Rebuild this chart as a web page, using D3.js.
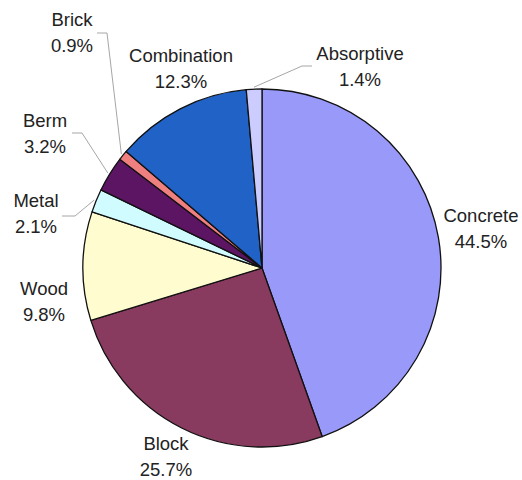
<!DOCTYPE html>
<html>
<head>
<meta charset="utf-8">
<script src="https://cdn.jsdelivr.net/npm/d3@7/dist/d3.min.js"></script>
<style>
  html, body { margin: 0; padding: 0; background: #fff; }
  svg { display: block; }
  text { font-family: Arial, "Liberation Sans", sans-serif; font-size: 18.5px; fill: #222; }
</style>
</head>
<body>
<svg id="chart" width="522" height="480"></svg>
<script>
// Barrier material shares (percent), clockwise from 12 o'clock
const categories = ["Concrete", "Block", "Wood", "Metal", "Berm", "Brick", "Combination", "Absorptive"];
const shares = [44.5, 25.7, 9.8, 2.1, 3.2, 0.9, 12.3, 1.4];
const shareLabels = ["44.5%", "25.7%", "9.8%", "2.1%", "3.2%", "0.9%", "12.3%", "1.4%"];
const sliceColors = ["#9999FA", "#893A5F", "#FFFDD0", "#D0FCFF", "#5C1563", "#F08080", "#2062C6", "#CCCCFF"];

// Label placement: text centre x, first-line baseline y, and optional leader elbow
const labelLayout = {
  "Concrete":    { x: 481, y: 222 },
  "Block":       { x: 166, y: 450 },
  "Wood":        { x: 44,  y: 295 },
  "Metal":       { x: 36,  y: 207, leader: [[62, 216], [75, 216]] },
  "Berm":        { x: 45,  y: 127, leader: [[72, 133], [82, 133]] },
  "Brick":       { x: 72,  y: 26,  leader: [[97, 33], [107, 33]] },
  "Combination": { x: 181, y: 62 },
  "Absorptive":  { x: 360, y: 60,  leader: [[312, 66], [302, 66]] }
};

const cx = 262, cy = 268, radius = 179, lineGap = 26;

const data = categories.map((c, i) => ({ name: c, value: shares[i], label: shareLabels[i], color: sliceColors[i] }));

const svg = d3.select("#chart");
const g = svg.append("g").attr("transform", `translate(${cx},${cy})`);

const pie = d3.pie().sort(null).value(d => d.value);
const arc = d3.arc().innerRadius(0).outerRadius(radius);
const arcs = pie(data);

// Leader lines for the narrow slices
const leaderArc = d3.arc().innerRadius(radius + 2).outerRadius(radius + 2);
arcs.forEach(a => {
  const lay = labelLayout[a.data.name];
  if (!lay.leader) return;
  const mid = (a.startAngle + a.endAngle) / 2;
  const end = [Math.sin(mid) * (radius + 2) + cx, -Math.cos(mid) * (radius + 2) + cy];
  const pts = lay.leader.concat([end]);
  svg.append("path")
    .attr("d", d3.line()(pts))
    .attr("fill", "none")
    .attr("stroke", "#a6a6a6")
    .attr("stroke-width", 1);
});

// Slices
g.selectAll("path.slice")
  .data(arcs)
  .join("path")
  .attr("class", "slice")
  .attr("d", arc)
  .attr("fill", d => d.data.color)
  .attr("stroke", "#111")
  .attr("stroke-width", 1.3)
  .attr("stroke-linejoin", "round");

// Category and percentage labels
arcs.forEach(a => {
  const lay = labelLayout[a.data.name];
  const t = svg.append("text").attr("text-anchor", "middle");
  t.append("tspan").attr("x", lay.x).attr("y", lay.y).text(a.data.name);
  t.append("tspan").attr("x", lay.x).attr("y", lay.y + lineGap).text(a.data.label);
});
</script>
</body>
</html>
